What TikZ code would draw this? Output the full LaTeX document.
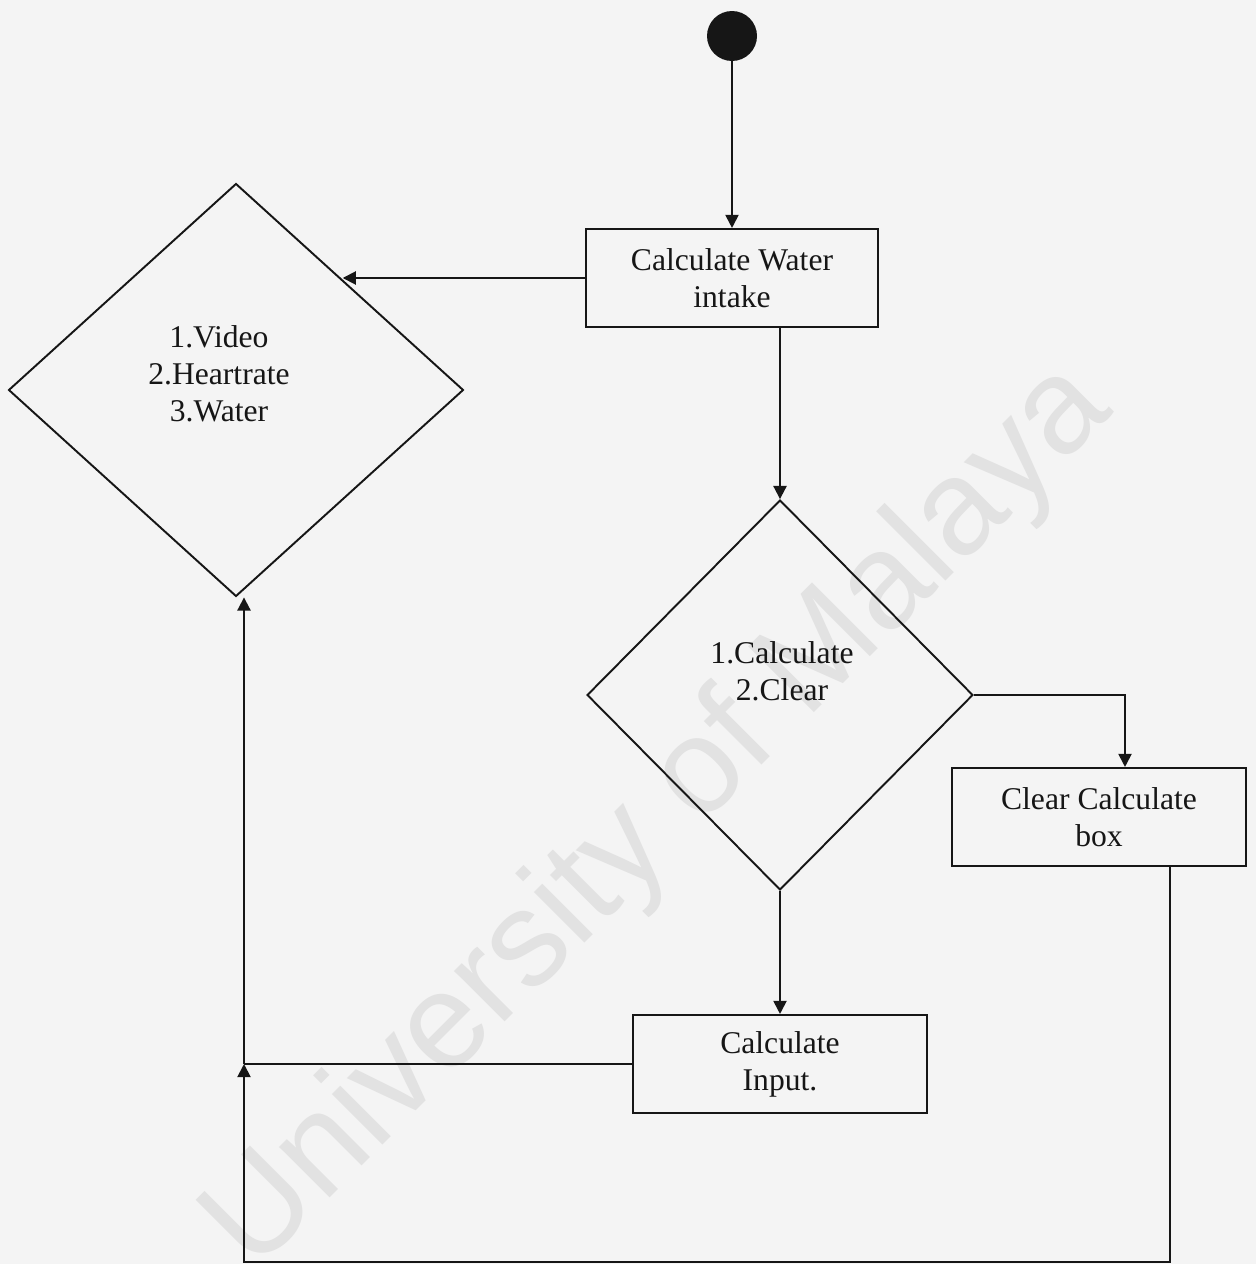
\documentclass[tikz,border=0pt]{standalone}
\usepackage{fontspec}
\setmainfont{Liberation Serif}
\newfontfamily\wmfont{Liberation Sans}
\usetikzlibrary{shapes.geometric,arrows.meta,calc}
\definecolor{bg}{HTML}{F4F4F4}
\definecolor{ink}{HTML}{161616}
\definecolor{wm}{HTML}{E2E2E2}
\begin{document}
\begin{tikzpicture}[x=0.02cm,y=-0.02cm,
  every node/.style={font=\fontsize{18}{21}\selectfont, text=ink},
  procbox/.style={draw=ink, line width=1.2pt, minimum height=1.96cm, inner sep=0, align=center},
  decision/.style={draw=ink, line width=1.1pt, diamond, inner sep=0},
  conn/.style={draw=ink, line width=1.1pt},
  arr/.style={conn, -{Triangle[length=7.5pt,width=7.5pt]}},
  lbl/.style={align=center}]
\fill[bg] (0,0) rectangle (1256,1264);
\useasboundingbox (0,0) rectangle (1256,1264);
% watermark
\node[text=wm, rotate=45, font=\wmfont\fontsize{77}{85}\selectfont] (wmark) at (660,818) {University of Malaya};
% nodes
\node[circle, fill=ink, minimum size=1cm, inner sep=0] (start) at (732,36) {};
\node[procbox, minimum width=5.84cm] (box1) at (732,278) {Calculate Water\\intake};
\node[decision, minimum width=9.1cm, minimum height=8.26cm] (d1) at (236,390) {};
\node[lbl] (d1t) at (219,374) {1.Video\\2.Heartrate\\3.Water};
\node[decision, minimum width=7.72cm, minimum height=7.8cm] (d2) at (780,695) {};
\node[lbl] (d2t) at (782,671) {1.Calculate\\2.Clear};
\node[procbox, minimum width=5.88cm] (clear) at (1099,817) {Clear Calculate\\box};
\node[procbox, minimum width=5.88cm] (input) at (780,1064) {Calculate\\Input.};
\coordinate (j) at (244,1064);
\coordinate (corner) at (244,1262);
% connectors
\draw[arr] (start) -- (box1.north);
\draw[arr] (box1.west) -- (box1.west -| d1.46);
\draw[arr] ([xshift=0.96cm]box1.south) -- (d2.north);
\draw[arr] (d2.east) -| ([xshift=0.52cm]clear.north);
\draw[arr] (d2.south) -- (input.north);
\draw[conn] (input.west) -- (j);
\draw[arr] (j) -- (j |- d1.south);
\draw[arr] ([xshift=1.42cm]clear.south) |- (corner) -- (j);
\end{tikzpicture}
\end{document}
